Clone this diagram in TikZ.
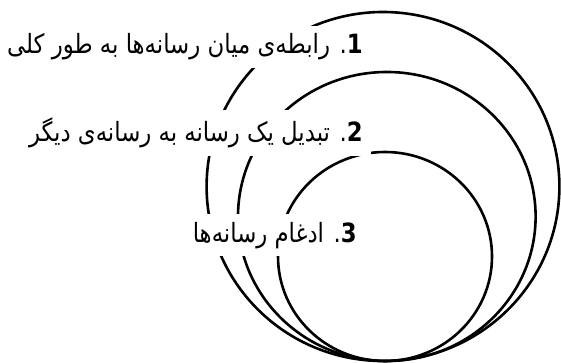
\documentclass[tikz,border=0pt]{standalone}
\usepackage{fontspec}
\newfontfamily\arabicfont[Script=Arabic,FakeStretch=0.86]{DejaVu Sans}
\TeXXeTstate=1
\begin{document}
\begin{tikzpicture}[x=1pt,y=-1pt,
	tier/.style={fill=white,inner sep=8pt,anchor=base east,font=\arabicfont\fontsize{26.5}{30}\selectfont},
	ring/.style={line width=2.6pt}]
	\useasboundingbox (0,0) rectangle (561,363);
	% nested circles, all touching at the bottom
	\draw[ring] (383,186.5) ellipse [x radius=176.4pt,y radius=174.5pt];
	\draw[ring] (386.8,216.5) ellipse [x radius=148.8pt,y radius=144.5pt];
	\draw[ring] (385,256.5) ellipse [x radius=107pt,y radius=104.5pt];
	% captions
	\node[tier] (general) at (371,54) {\beginR\beginL\textbf{1}\endL. رابطه‌ی میان رسانه‌ها به طور کلی\endR};
	\node[tier] (convert) at (371,142) {\beginR\beginL\textbf{2}\endL. تبدیل یک رسانه به رسانه‌ی دیگر\endR};
	\node[tier] (merge) at (365,242) {\beginR\beginL\textbf{3}\endL. ادغام رسانه‌ها\endR};
\end{tikzpicture}
\end{document}
